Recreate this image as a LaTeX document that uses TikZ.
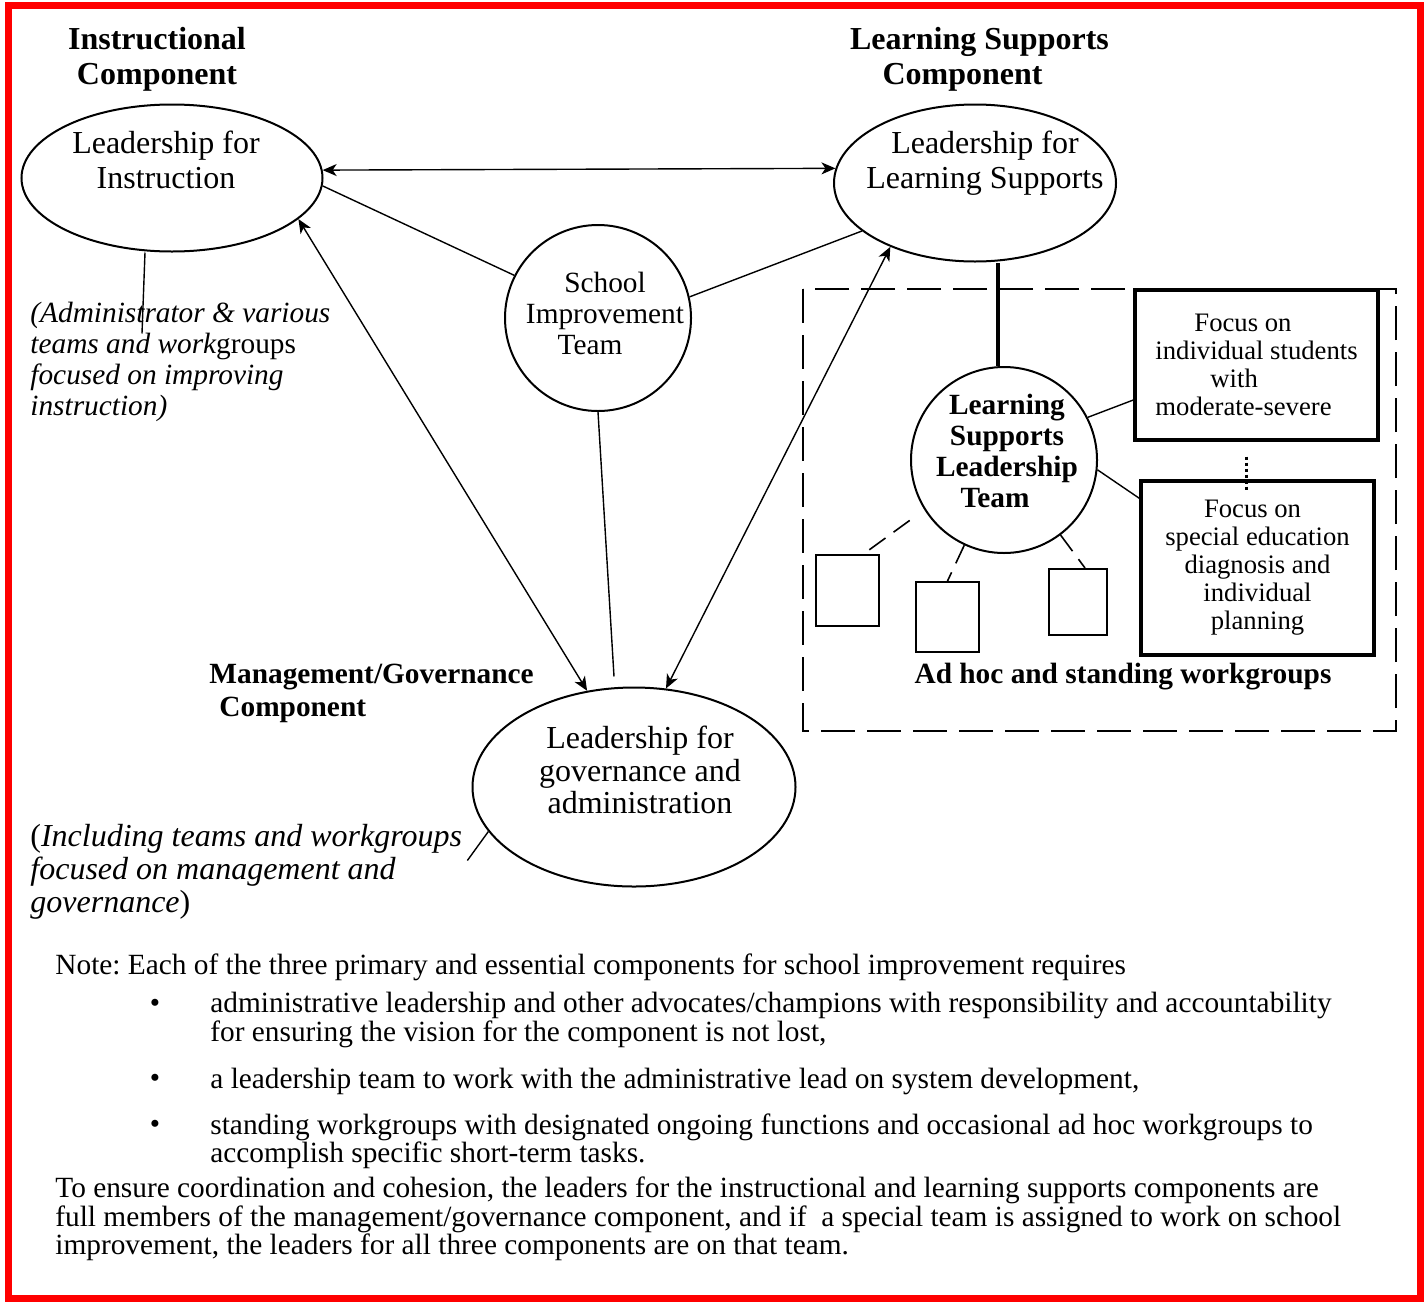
\documentclass[tikz,border=0pt]{standalone}
\usepackage{fontspec}
\setmainfont{Liberation Serif}
\usepackage{xcolor}
\usetikzlibrary{arrows.meta,shapes.geometric}
\definecolor{FrameRed}{HTML}{FF0000}
\frenchspacing
\tikzset{
  oval/.style={draw,ellipse,line width=1pt,inner sep=0pt},
  ring/.style={draw,circle,line width=1pt,inner sep=0pt},
  focusbox/.style={draw,line width=1.7pt,inner sep=0pt,align=left,
              font=\fontsize{13.33}{14}\selectfont},
  groupbox/.style={draw,line width=1pt,inner sep=0pt},
  headbold/.style={font=\fontsize{16}{17.5}\selectfont\bfseries,align=center,inner sep=0pt,yshift=-1.5pt},
  subbold/.style={font=\fontsize{14.67}{16.5}\selectfont\bfseries,align=left,inner sep=0pt,yshift=-1.5pt},
  ovaltext/.style={font=\fontsize{16}{17.5}\selectfont,align=center,inner sep=0pt,yshift=-1.5pt},
  ringtext/.style={font=\fontsize{14.67}{15.5}\selectfont,align=center,inner sep=0pt,yshift=-1.5pt},
  asidetext/.style={font=\fontsize{14.67}{15.5}\selectfont\itshape,align=left,inner sep=0pt,yshift=-1.5pt},
  notetext/.style={font=\fontsize{14.67}{14.2}\selectfont,align=left,inner sep=0pt,yshift=-1.5pt},
  link/.style={line width=0.7pt},
  twoway/.style={{Stealth[length=7pt,width=6pt,inset=2pt]}-{Stealth[length=7pt,width=6pt,inset=2pt]},line width=0.7pt},
  wglink/.style={line width=0.8pt,dash pattern=on 10pt off 5pt},
  wgframe/.style={line width=0.85pt,dash pattern=on 17pt off 6pt}
}

\begin{document}
\begin{tikzpicture}[x=0.5pt,y=0.5pt]
  \useasboundingbox (0,0) rectangle (1427,-1301);
  \draw[draw=FrameRed,line width=3.5pt] (8,-5.5) rectangle (1420,-1298.5);
  \draw[wgframe] (803,-289) rectangle (1396,-731);

  \node[headbold] (instrhead) at (157,-56) {Instructional\\Component};
  \node[headbold] (lshead) at (979.5,-56) {Learning Supports\\Component\hspace*{17pt}};
  \node[subbold,anchor=west] (govhead) at (209,-690) {Management/Governance\\\hspace*{5pt}Component};

  \node[oval,minimum width=150.5pt,minimum height=73.5pt] (li) at (172,-178) {};
  \node[ovaltext] (litext) at (166,-157) {Leadership for\\Instruction};
  \node[oval,minimum width=141pt,minimum height=78.5pt] (ls) at (975,-183) {};
  \node[ovaltext] (lstext) at (985,-160) {Leadership for\\Learning Supports};
  \node[oval,minimum width=161.5pt,minimum height=99.5pt] (gov) at (634,-787) {};
  \node[ovaltext,font=\fontsize{16}{16.3}\selectfont] (govtext) at (640,-767) {Leadership for\\governance and\\administration};
  \node[ring,minimum size=93pt] (sit) at (598,-318) {};
  \node[ringtext] (sittext) at (605,-310) {School\\Improvement\\Team\hspace*{15pt}};
  \node[ring,minimum size=93pt] (lslt) at (1004,-460) {};
  \node[ringtext,font=\fontsize{14.67}{15.5}\selectfont\bfseries] (lslttext) at (1007,-448) {Learning\\Supports\\Leadership\\Team\hspace*{12pt}};

  \node[focusbox,minimum width=121.5pt,minimum height=75pt] (foci) at (1256.5,-365)
    {\hspace*{19.5pt}Focus on\\individual students\\\hspace*{27.5pt}with\\moderate-severe};
  \node[focusbox,align=center,minimum width=116.5pt,minimum height=87pt] (fsped) at (1257.5,-568)
    {Focus on\hspace*{5pt}\\special education\\diagnosis and\\individual\\planning};
  \node[groupbox,minimum width=31.5pt,minimum height=35.5pt] (sq1) at (847.5,-590.5) {};
  \node[groupbox,minimum width=31.5pt,minimum height=35pt] (sq2) at (947.5,-617) {};
  \node[groupbox,minimum width=29pt,minimum height=33pt] (sq3) at (1078,-602) {};
  \node[subbold] (wglabel) at (1123,-674) {Ad hoc and standing workgroups};

  \node[asidetext,anchor=west] (instrnote) at (30,-359)
    {(Administrator \& various\\teams and work{\upshape groups}\\focused on improving\\instruction)};
  \node[asidetext,font=\fontsize{16}{16.5}\selectfont\itshape,anchor=west] (govnote) at (30,-869)
    {{\upshape(}Including teams and workgroups\\focused on management and\\governance{\upshape)}};

  \draw[twoway] (li.3) -- (ls.174);
  \draw[link] (li.-3) -- (sit.153);
  \draw[link] (sit.13) -- (ls.-157);
  \draw[link] (sit.south) -- ([xshift=-10pt,yshift=5pt]gov.north);
  \draw[twoway] (li.-18) -- (gov.116);
  \draw[twoway] (ls.-143) -- (gov.72);
  \draw[link] ([xshift=-13.5pt]li.south) -- ++(-3,-81);
  \draw[link] (gov.197) -- ++(-21,-29);
  \draw[line width=2pt] ([xshift=-3pt]lslt.north) -- ([xshift=-3pt]lslt.north |- ls.south);
  \draw[link] (lslt.27) -- ([yshift=-17.5pt]foci.west);
  \draw[link] (lslt.-6) -- ([yshift=-9.5pt]fsped.north west);
  \draw[line width=1.5pt,dash pattern=on 1.6pt off 1.4pt] ([xshift=-5pt,yshift=-7.5pt]foci.south) -- ++(0,-35);
  \draw[wglink,shorten <=9pt] (lslt.212) -- ([xshift=8pt]sq1.north);
  \draw[wglink] (lslt.245) -- (sq2.north);
  \draw[wglink] (lslt.-53) -- ([xshift=3.5pt]sq3.north);

  \node[notetext,anchor=west] (note) at (55,-964)
    {Note: Each of the three primary and essential components for school improvement requires};
  \foreach \y/\n in {1003/1,1078/2,1124/3}
    \node[notetext] (dot\n) at (155,-\y) {\textbullet};
  \node[notetext,anchor=west] (item1) at (210,-1017)
    {administrative leadership and other advocates/champions with responsibility and accountability\\for ensuring the vision for the component is not lost,};
  \node[notetext,anchor=west] (item2) at (210,-1078)
    {a leadership team to work with the administrative lead on system development,};
  \node[notetext,anchor=west] (item3) at (210,-1138)
    {standing workgroups with designated ongoing functions and occasional ad hoc workgroups to\\accomplish specific short-term tasks.};
  \node[notetext,anchor=west] (closing) at (55,-1216)
    {To ensure coordination and cohesion, the leaders for the instructional and learning supports components are\\full members of the management/governance component, and if\ \ a special team is assigned to work on school\\improvement, the leaders for all three components are on that team.};
\end{tikzpicture}
\end{document}
